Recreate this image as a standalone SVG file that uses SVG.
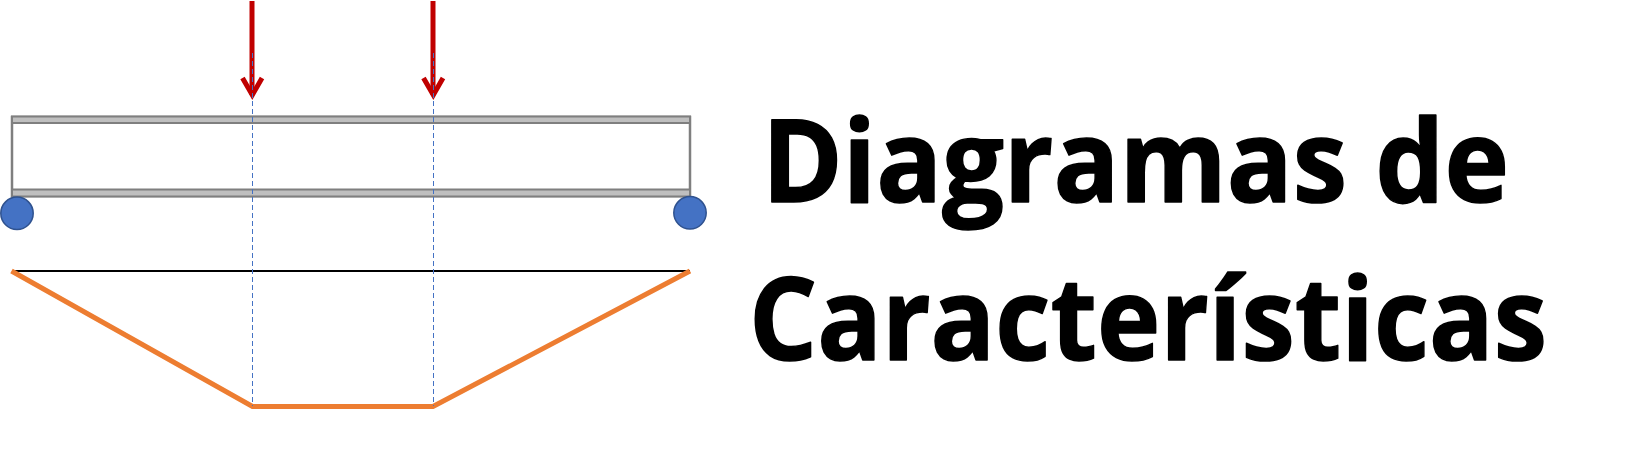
<svg xmlns="http://www.w3.org/2000/svg" width="1628" height="476" viewBox="0 0 1628 476">
<style>
.flange{fill:#bfbfbf;stroke:#7f7f7f;stroke-width:2}
.web{fill:none;stroke:#7f7f7f;stroke-width:2.5}
.support{fill:#4472c4;stroke:#2f528f;stroke-width:1.5}
.guide{fill:none;stroke:#4472c4;stroke-width:1;stroke-dasharray:5 3}
.load{fill:none;stroke:#c00000;stroke-width:5}
.moment{fill:none;stroke:#ed7d31;stroke-width:5;stroke-linejoin:miter}
.title{font-family:"Open Sans","Liberation Sans",sans-serif;font-weight:700;font-size:114px;fill:#000;stroke:#000;stroke-width:1.5;stroke-linejoin:round}
</style>
<rect width="1628" height="476" fill="#fff"/>
<g id="beam">
<rect class="web" x="12" y="117" width="678" height="79"/>
<rect class="flange" x="12" y="116.500" width="678" height="6.500"/>
<rect class="flange" x="12" y="189.500" width="678" height="7"/>
</g>
<g id="support-left"><circle class="support" cx="17" cy="213.300" r="16.200"/></g>
<g id="support-right"><circle class="support" cx="690" cy="212.800" r="16.200"/></g>
<g id="baseline"><line x1="12" y1="271" x2="690" y2="271" stroke="#000" stroke-width="2.200"/></g>
<g id="moment-diagram"><polyline class="moment" points="11.500,271 252.500,406.500 433,406.500 690,271"/></g>
<g id="connectors">
<line class="load" x1="252" y1="1" x2="252" y2="95"/>
<polyline class="load" points="242.500,78 252.300,95 262,78"/>
<line class="load" x1="433" y1="1" x2="433" y2="95"/>
<polyline class="load" points="423.500,78 433.300,95 443,78"/>
<line class="guide" x1="252.500" y1="53" x2="252.500" y2="406"/>
<line class="guide" x1="433.500" y1="53" x2="433.500" y2="406"/>
</g>
<g id="title">
<text class="title" x="762" y="202" textLength="747" lengthAdjust="spacingAndGlyphs">Diagramas de</text>
<text class="title" x="749" y="360" textLength="798" lengthAdjust="spacingAndGlyphs">Características</text>
</g>
</svg>
